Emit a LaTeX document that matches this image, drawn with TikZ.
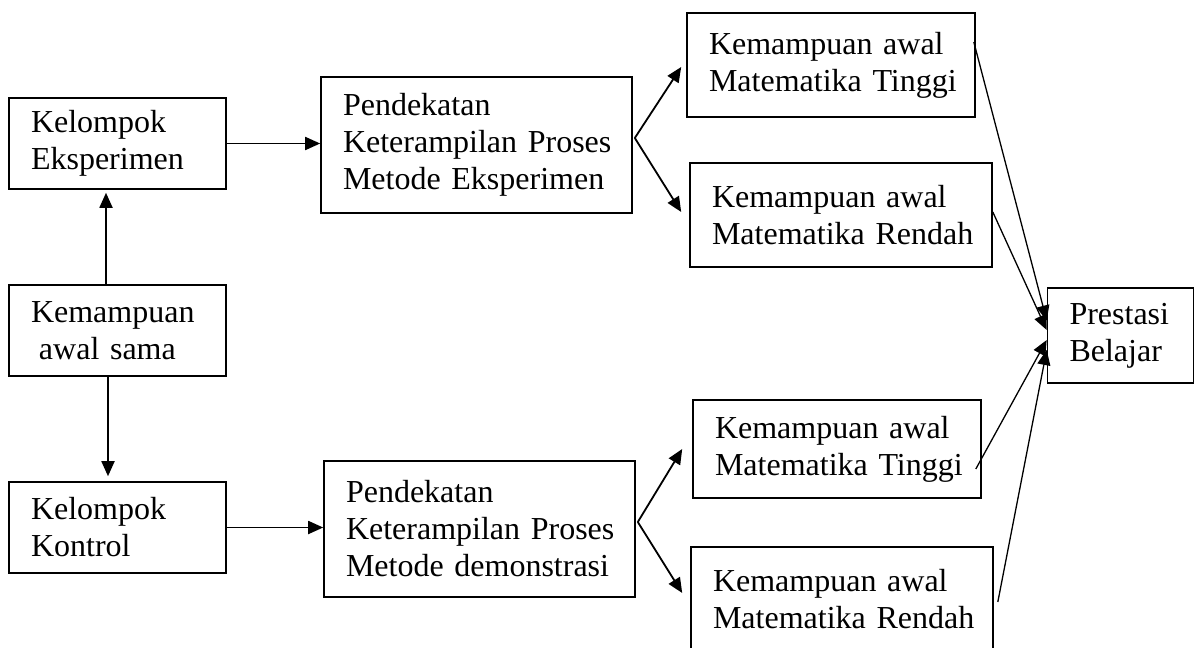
\documentclass[tikz,border=0pt]{standalone}
\usepackage{fontspec}
\setmainfont{Liberation Serif}
\usetikzlibrary{arrows.meta}

\tikzset{
  box/.style={draw,line width=0.8pt,inner xsep=11pt,inner ysep=0pt,align=left,
    font=\fontsize{16}{18.5}\selectfont},
  arr/.style={line width=0.9pt,-{Triangle[length=7.5pt,width=6.5pt]}},
  thinarr/.style={line width=0.65pt,-{Triangle[length=7.5pt,width=6.5pt]}}
}

\begin{document}
\begin{tikzpicture}[x=0.5pt,y=-0.5pt]
  \useasboundingbox (0,0) rectangle (1197,647);
  \clip (0,0) rectangle (1197,647);
  \node[box,text width=86.5pt,minimum height=45.5pt] (ke) at (117.5,143.5) {\mbox{Kelompok}\\\mbox{Eksperimen}};
  \node[box,text width=86.5pt,minimum height=45.5pt] (kas) at (117.5,330.5) {\mbox{Kemampuan}\\\mbox{\hspace*{4pt}awal sama}};
  \node[box,text width=86.5pt,minimum height=45.5pt] (kk) at (117.5,527.5) {\mbox{Kelompok}\\\mbox{Kontrol}};
  \node[box,text width=133.5pt,minimum height=68pt] (pe) at (476.5,145) {\mbox{Pendekatan}\\\mbox{Keterampilan Proses}\\\mbox{Metode Eksperimen}};
  \node[box,text width=133.5pt,minimum height=68pt] (pd) at (479.5,529) {\mbox{Pendekatan}\\\mbox{Keterampilan Proses}\\\mbox{Metode demonstrasi}};
  \node[box,text width=122pt,minimum height=52pt] (tt1) at (831,65) {\mbox{Kemampuan awal}\\\mbox{Matematika Tinggi}};
  \node[box,text width=129pt,minimum height=52pt] (tr1) at (841,215) {\mbox{Kemampuan awal}\\\mbox{Matematika Rendah}};
  \node[box,text width=122pt,minimum height=49pt] (tt2) at (837,449) {\mbox{Kemampuan awal}\\\mbox{Matematika Tinggi}};
  \node[box,text width=129pt,minimum height=52pt] (tr2) at (842,599) {\mbox{Kemampuan awal}\\\mbox{Matematika Rendah}};
  \node[box,text width=51pt,minimum height=47.5pt] (pb) at (1120.5,335.5) {\mbox{Prestasi}\\\mbox{Belajar}};
  \coordinate (pe-out) at ([xshift=1pt,yshift=3.5pt]pe.east);
  \coordinate (pd-out) at ([xshift=1pt,yshift=3.5pt]pd.east);
  \draw[arr] (ke.east) -- (ke.east -| pe.west);
  \draw[arr] ([xshift=-5.75pt]kas.north) -- ([xshift=-5.75pt,yshift=-1.5pt]ke.south);
  \draw[arr] ([xshift=-4.75pt]kas.south) -- ([xshift=-4.75pt,yshift=2.5pt]kk.north);
  \draw[arr] (kk.east) -- (kk.east -| pd.west);
  \draw[arr] (pe-out) -- ([xshift=-2.5pt,yshift=-1pt]tt1.west);
  \draw[arr] (pe-out) -- ([xshift=-4pt,yshift=1.5pt]tr1.west);
  \draw[arr] (pd-out) -- ([xshift=-5pt]tt2.west);
  \draw[arr] (pd-out) -- ([xshift=-4pt,yshift=3pt]tr2.west);
  \draw[thinarr] ([xshift=-1pt,yshift=11.5pt]tt1.east) -- ([yshift=7.5pt]pb.west);
  \draw[thinarr] ([yshift=1.5pt]tr1.east) -- ([yshift=2.75pt]pb.west);
  \draw[thinarr] ([xshift=-3pt,yshift=-10pt]tt2.east) -- ([yshift=-2.25pt]pb.west);
  \draw[thinarr] ([xshift=2pt,yshift=-1.5pt]tr2.east) -- ([yshift=-7.25pt]pb.west);
\end{tikzpicture}
\end{document}
